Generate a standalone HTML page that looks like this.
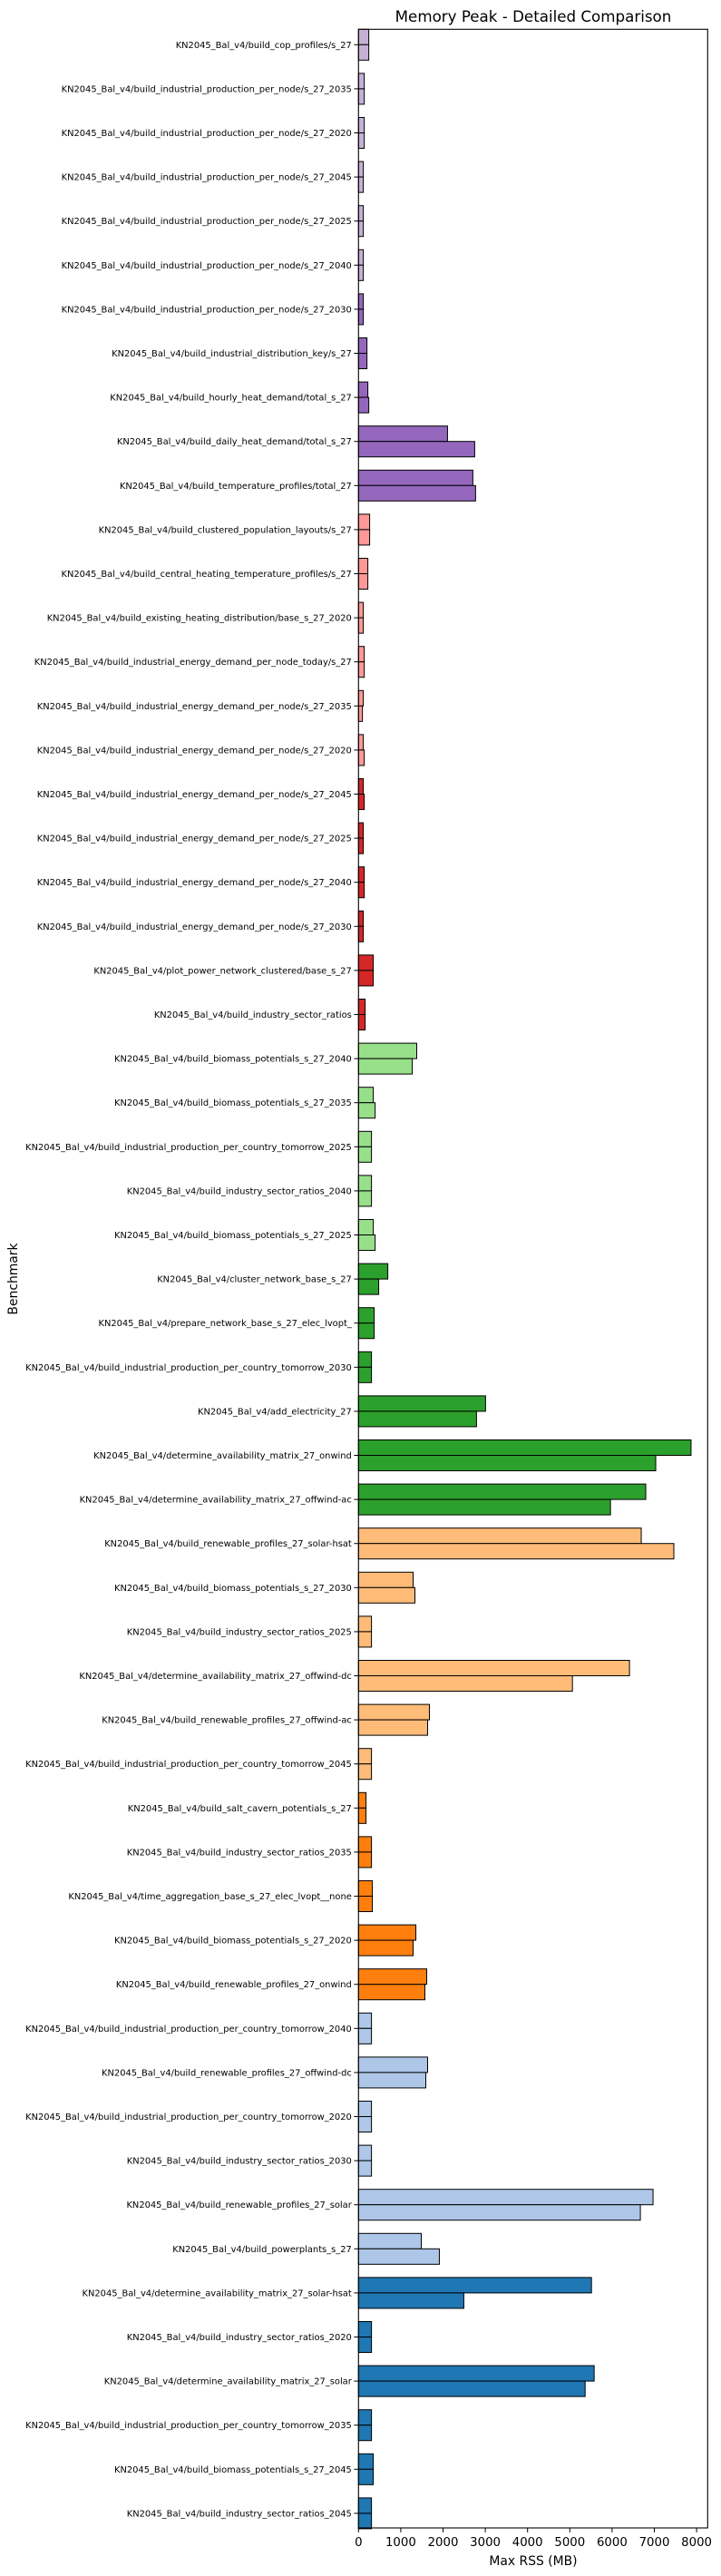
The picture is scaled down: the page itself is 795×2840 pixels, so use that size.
<!DOCTYPE html>
<html><head><meta charset="utf-8"><title>Memory Peak - Detailed Comparison</title>
<style>
html,body{margin:0;padding:0;background:#fff;}
svg{display:block;font-family:"DejaVu Sans","Liberation Sans",sans-serif;}
</style></head>
<body>
<svg id="chart" width="795" height="2840" viewBox="0 0 795 2840" xmlns="http://www.w3.org/2000/svg">
<rect x="0" y="0" width="795" height="2840" fill="#fff"/>
<text x="588" y="24" font-size="16.7" text-anchor="middle">Memory Peak - Detailed Comparison</text>
<g id="bars"></g>
<g id="yticks"></g>
<g id="xticks"></g>
<rect x="395.3" y="32.3" width="385" height="2754.7" fill="none" stroke="#000" stroke-width="1.1"/>
<text x="588" y="2828" font-size="13.9" text-anchor="middle">Max RSS (MB)</text>
<text x="0" y="0" font-size="13.9" text-anchor="middle" transform="translate(19,1410) rotate(-90)">Benchmark</text>
</svg>
<script>
const categories = [
"KN2045_Bal_v4/build_cop_profiles/s_27",
"KN2045_Bal_v4/build_industrial_production_per_node/s_27_2035",
"KN2045_Bal_v4/build_industrial_production_per_node/s_27_2020",
"KN2045_Bal_v4/build_industrial_production_per_node/s_27_2045",
"KN2045_Bal_v4/build_industrial_production_per_node/s_27_2025",
"KN2045_Bal_v4/build_industrial_production_per_node/s_27_2040",
"KN2045_Bal_v4/build_industrial_production_per_node/s_27_2030",
"KN2045_Bal_v4/build_industrial_distribution_key/s_27",
"KN2045_Bal_v4/build_hourly_heat_demand/total_s_27",
"KN2045_Bal_v4/build_daily_heat_demand/total_s_27",
"KN2045_Bal_v4/build_temperature_profiles/total_27",
"KN2045_Bal_v4/build_clustered_population_layouts/s_27",
"KN2045_Bal_v4/build_central_heating_temperature_profiles/s_27",
"KN2045_Bal_v4/build_existing_heating_distribution/base_s_27_2020",
"KN2045_Bal_v4/build_industrial_energy_demand_per_node_today/s_27",
"KN2045_Bal_v4/build_industrial_energy_demand_per_node/s_27_2035",
"KN2045_Bal_v4/build_industrial_energy_demand_per_node/s_27_2020",
"KN2045_Bal_v4/build_industrial_energy_demand_per_node/s_27_2045",
"KN2045_Bal_v4/build_industrial_energy_demand_per_node/s_27_2025",
"KN2045_Bal_v4/build_industrial_energy_demand_per_node/s_27_2040",
"KN2045_Bal_v4/build_industrial_energy_demand_per_node/s_27_2030",
"KN2045_Bal_v4/plot_power_network_clustered/base_s_27",
"KN2045_Bal_v4/build_industry_sector_ratios",
"KN2045_Bal_v4/build_biomass_potentials_s_27_2040",
"KN2045_Bal_v4/build_biomass_potentials_s_27_2035",
"KN2045_Bal_v4/build_industrial_production_per_country_tomorrow_2025",
"KN2045_Bal_v4/build_industry_sector_ratios_2040",
"KN2045_Bal_v4/build_biomass_potentials_s_27_2025",
"KN2045_Bal_v4/cluster_network_base_s_27",
"KN2045_Bal_v4/prepare_network_base_s_27_elec_lvopt_",
"KN2045_Bal_v4/build_industrial_production_per_country_tomorrow_2030",
"KN2045_Bal_v4/add_electricity_27",
"KN2045_Bal_v4/determine_availability_matrix_27_onwind",
"KN2045_Bal_v4/determine_availability_matrix_27_offwind-ac",
"KN2045_Bal_v4/build_renewable_profiles_27_solar-hsat",
"KN2045_Bal_v4/build_biomass_potentials_s_27_2030",
"KN2045_Bal_v4/build_industry_sector_ratios_2025",
"KN2045_Bal_v4/determine_availability_matrix_27_offwind-dc",
"KN2045_Bal_v4/build_renewable_profiles_27_offwind-ac",
"KN2045_Bal_v4/build_industrial_production_per_country_tomorrow_2045",
"KN2045_Bal_v4/build_salt_cavern_potentials_s_27",
"KN2045_Bal_v4/build_industry_sector_ratios_2035",
"KN2045_Bal_v4/time_aggregation_base_s_27_elec_lvopt__none",
"KN2045_Bal_v4/build_biomass_potentials_s_27_2020",
"KN2045_Bal_v4/build_renewable_profiles_27_onwind",
"KN2045_Bal_v4/build_industrial_production_per_country_tomorrow_2040",
"KN2045_Bal_v4/build_renewable_profiles_27_offwind-dc",
"KN2045_Bal_v4/build_industrial_production_per_country_tomorrow_2020",
"KN2045_Bal_v4/build_industry_sector_ratios_2030",
"KN2045_Bal_v4/build_renewable_profiles_27_solar",
"KN2045_Bal_v4/build_powerplants_s_27",
"KN2045_Bal_v4/determine_availability_matrix_27_solar-hsat",
"KN2045_Bal_v4/build_industry_sector_ratios_2020",
"KN2045_Bal_v4/determine_availability_matrix_27_solar",
"KN2045_Bal_v4/build_industrial_production_per_country_tomorrow_2035",
"KN2045_Bal_v4/build_biomass_potentials_s_27_2045",
"KN2045_Bal_v4/build_industry_sector_ratios_2045"
];
const runA = [243,136,136,114,114,114,114,200,221,2106,2706, 264,221,114,136,114,114, 114,114,136,114,350,157, 1378,350,307,307,350, 693,371,307,3006,7868,6797, 6690,1292,307,6412,1678,307, 178,307,328,1357,1614, 307,1635,307,307,6969,1485, 5512,307,5576,307,350,307];
const runB = [243,136,136,114,114,114,114,200,243,2749,2770, 264,221,114,136,93,136, 136,114,136,114,350,157, 1271,393,307,307,393, 478,371,307,2792,7033,5962, 7461,1335,307,5062,1635,307, 178,307,328,1292,1571, 307,1592,307,307,6669,1913, 2492,307,5362,307,350,307];
const groupSizes = [6,5,6,6,5,6,6,5,6,6];
const groupColors = ["#c5b0d5","#9467bd","#ff9896","#d62728","#98df8a","#2ca02c","#ffbb78","#ff7f0e","#aec7e8","#1f77b4"];
const xTicks = [0,1000,2000,3000,4000,5000,6000,7000,8000];

const NS = "http://www.w3.org/2000/svg";
const X0 = 395.3, PX_PER = 46.6/1000;
const Y_TOP = 32.3, STEP = 48.6, BAR_H = 0.35*STEP;
function xScale(v){ return X0 + v*PX_PER; }
function yScale(i){ return Y_TOP + 0.35*STEP + i*STEP; }

const colorOf = [];
groupSizes.forEach((n,g)=>{ for(let k=0;k<n;k++) colorOf.push(groupColors[g]); });

const barsG = document.getElementById("bars");
const ytG = document.getElementById("yticks");
const xtG = document.getElementById("xticks");

categories.forEach((name,i)=>{
  const cy = yScale(i);
  [[runA[i], cy-BAR_H, "a"], [runB[i], cy, "b"]].forEach(([v,y,s])=>{
    const r = document.createElementNS(NS,"rect");
    r.setAttribute("x", X0);
    r.setAttribute("y", y.toFixed(2));
    r.setAttribute("width", Math.max(0, xScale(v)-X0).toFixed(2));
    r.setAttribute("height", BAR_H.toFixed(2));
    r.setAttribute("fill", colorOf[i]);
    r.setAttribute("stroke", "#000");
    r.setAttribute("stroke-width", "1");
    
    
    barsG.appendChild(r);
  });
  const t = document.createElementNS(NS,"line");
  t.setAttribute("x1", X0-4.9); t.setAttribute("x2", X0);
  t.setAttribute("y1", cy); t.setAttribute("y2", cy);
  t.setAttribute("stroke","#000"); t.setAttribute("stroke-width","1");
  
  
  ytG.appendChild(t);
  const lbl = document.createElementNS(NS,"text");
  lbl.setAttribute("x", X0-7.5); lbl.setAttribute("y", cy+3.5);
  lbl.setAttribute("font-size","9.9"); lbl.setAttribute("text-anchor","end");
  lbl.textContent = name;
  
  
  ytG.appendChild(lbl);
});

const YB = 2787;
xTicks.forEach(v=>{
  const x = xScale(v);
  const t = document.createElementNS(NS,"line");
  t.setAttribute("x1", x); t.setAttribute("x2", x);
  t.setAttribute("y1", YB); t.setAttribute("y2", YB+4.9);
  t.setAttribute("stroke","#000"); t.setAttribute("stroke-width","1");
  
  
  xtG.appendChild(t);
  const lbl = document.createElementNS(NS,"text");
  lbl.setAttribute("x", x); lbl.setAttribute("y", YB+20);
  lbl.setAttribute("font-size","13.3"); lbl.setAttribute("text-anchor","middle");
  lbl.textContent = String(v);
  
  
  xtG.appendChild(lbl);
});
</script>
</body></html>
